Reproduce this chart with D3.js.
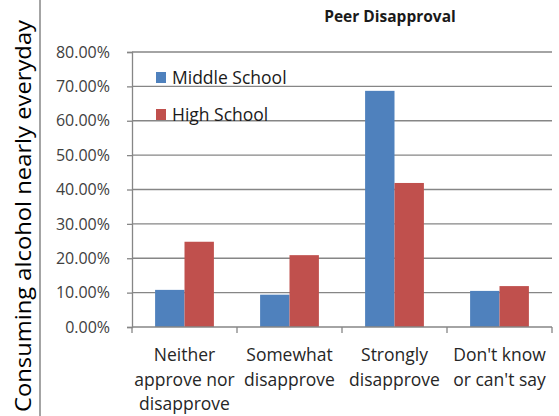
<!DOCTYPE html>
<html><head><meta charset="utf-8">
<script src="https://cdn.jsdelivr.net/npm/d3@7"></script>
<style>body{margin:0;background:#fff}svg{display:block}text{font-family:"Open Sans",sans-serif}</style>
</head><body><svg id="c" width="559" height="416"></svg>
<script>
const categories = [["Neither","approve nor","disapprove"],["Somewhat","disapprove"],["Strongly","disapprove"],["Don't know","or can't say"]];
const seriesNames = ["Middle School","High School"];
const middleSchool = [0.108, 0.094, 0.687, 0.105];
const highSchool = [0.248, 0.209, 0.419, 0.119];
const yTicks = [0,0.1,0.2,0.3,0.4,0.5,0.6,0.7,0.8];
const colors = ["#4f81bd","#c0504d"];

const svg = d3.select("#c");
const L=132, R=552, T=52, B=327;
const x = d3.scaleBand().domain(d3.range(categories.length)).range([L,R]).paddingInner(0.44).paddingOuter(0.22);
const x0 = d3.scaleBand().domain(d3.range(categories.length)).range([L,R]);
const xs = d3.scaleBand().domain([0,1]).range([0,x.bandwidth()]);
const y = d3.scaleLinear().domain([0,0.8]).range([B,T]);
const grid="#868686";

// left separator line
svg.append("line").attr("x1",40).attr("x2",40).attr("y1",0).attr("y2",416).attr("stroke",grid).attr("stroke-width",1.5);

// gridlines
svg.append("g").selectAll("line").data(yTicks.slice(1)).join("line")
  .attr("x1",L).attr("x2",R).attr("y1",d=>y(d)).attr("y2",d=>y(d)).attr("stroke",grid).attr("stroke-width",1.3);

// y axis
const ya = svg.append("g").attr("transform",`translate(${L},0)`).call(d3.axisLeft(y).tickValues(yTicks).tickFormat(d3.format(".2%")).tickSize(5).tickPadding(17));
ya.select(".domain").attr("stroke",grid).attr("stroke-width",1.3);
ya.selectAll(".tick line").attr("stroke",grid).attr("stroke-width",1.3);
ya.selectAll(".tick text").attr("font-size",16).attr("fill","#404040").attr("font-family","Open Sans");

// bars
const series=[middleSchool,highSchool];
series.forEach((vals,si)=>{
  svg.append("g").selectAll("rect").data(vals).join("rect")
    .attr("x",(d,i)=>x(i)+xs(si)).attr("width",xs.bandwidth())
    .attr("y",d=>y(d)).attr("height",d=>B-y(d)).attr("fill",colors[si]);
});

// x axis
svg.append("line").attr("x1",L).attr("x2",R).attr("y1",B).attr("y2",B).attr("stroke",grid).attr("stroke-width",1.3);
const bounds=[...d3.range(categories.length).map(i=>x0(i)), R];
svg.append("g").selectAll("line").data(bounds).join("line")
  .attr("x1",d=>d).attr("x2",d=>d).attr("y1",B).attr("y2",B+6).attr("stroke",grid).attr("stroke-width",1.3);

// x labels
const xl = svg.append("g").selectAll("text").data(categories).join("text")
  .attr("text-anchor","middle").attr("font-size",17.5).attr("fill","#262626");
xl.each(function(lines,i){
  const t=d3.select(this);
  lines.forEach((ln,j)=>t.append("tspan").attr("x",x0(i)+x0.bandwidth()/2).attr("y",361+j*24.7).text(ln));
});

// legend
seriesNames.forEach((n,i)=>{
  const ly=72+i*37;
  svg.append("rect").attr("x",156).attr("y",ly).attr("width",10).attr("height",11).attr("fill",colors[i]);
  svg.append("text").attr("x",172).attr("y",ly+12).attr("font-size",17.5).attr("fill","#1a1a1a").text(n);
});

// title
svg.append("text").attr("x",390).attr("y",22).attr("text-anchor","middle").attr("font-size",15.5).attr("font-weight","bold").attr("fill","#1a1a1a").text("Peer Disapproval");

// y title
svg.append("text").attr("transform","translate(31,216) rotate(-90)").attr("text-anchor","middle")
  .attr("font-size",22).attr("fill","#000").attr("textLength",392).attr("lengthAdjust","spacingAndGlyphs").text("Consuming alcohol nearly everyday");
</script></body></html>
